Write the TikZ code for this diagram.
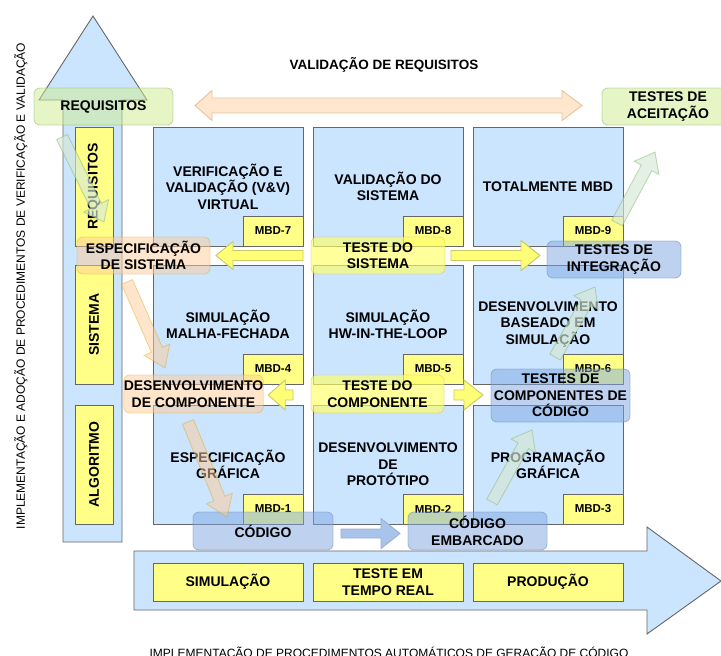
\documentclass[tikz,border=0pt]{standalone}
\usepackage{fontspec}
\setmainfont{Liberation Sans}
\usetikzlibrary{calc}

\definecolor{cellblue}{HTML}{CCE5FF}
\definecolor{edge}{HTML}{666666}
\definecolor{yel}{HTML}{FFFF88}
\definecolor{ovgreen}{HTML}{CDEB8B}
\definecolor{ovgreenline}{HTML}{82B366}
\definecolor{ovorange}{HTML}{FFCC99}
\definecolor{ovorangeline}{HTML}{D79B00}
\definecolor{ovblue}{HTML}{7EA6E0}
\definecolor{ovblueline}{HTML}{6C8EBF}
\definecolor{ovyellow}{HTML}{FFFF66}
\definecolor{ovyellowline}{HTML}{D6B656}
\definecolor{peach}{HTML}{FFE6CC}
\definecolor{peachline}{HTML}{E6C3A0}
\definecolor{arrowyel}{HTML}{FFFF77}
\definecolor{arrowyelline}{HTML}{C8C864}
\definecolor{arrowblue}{HTML}{A9C4EB}
\definecolor{arrowblueline}{HTML}{9AB0D0}
\definecolor{diaggreen}{HTML}{D5E8D4}

% block arrow: #1 style, #2 tail, #3 tip, #4 shaft half width, #5 head half width, #6 head length
\newcommand\blkarrow[6]{%
  \coordinate (ba-h) at ($(#3)!#6!(#2)$);
  \draw[#1] ($(#2)!#4!90:(#3)$) -- ($(ba-h)!#4!90:(#3)$) -- ($(ba-h)!#5!90:(#3)$)
    -- (#3) -- ($(ba-h)!#5!-90:(#3)$) -- ($(ba-h)!#4!-90:(#3)$) -- ($(#2)!#4!-90:(#3)$) -- cycle;
}

\begin{document}
\begin{tikzpicture}[x=1pt,y=-1pt,line width=0.9pt,
  lbl/.style={font=\bfseries\fontsize{14}{16.5}\selectfont, align=center},
  cell/.style={draw=edge, fill=cellblue, minimum width=150pt, minimum height=119pt,
    inner sep=0pt, outer sep=0pt, lbl},
  ybox/.style={draw=edge, fill=yel, inner sep=0pt, outer sep=0pt, lbl},
  vbox/.style={ybox, rotate=90, minimum width=119pt, minimum height=38pt},
  hbox/.style={ybox, minimum width=150pt, minimum height=38pt},
  mbd/.style={ybox, minimum width=60pt, minimum height=30pt, anchor=south east,
    font=\bfseries\fontsize{11.5}{13}\selectfont},
  ovl/.style={rounded corners=6pt, inner sep=0pt, outer sep=0pt, lbl, minimum height=37pt},
  greenbox/.style={ovl, fill=ovgreen, fill opacity=0.5, draw=ovgreenline, draw opacity=0.45, text opacity=1},
  orangebox/.style={ovl, fill=ovorange, fill opacity=0.5, draw=ovorangeline, draw opacity=0.3, text opacity=1},
  bluebox/.style={ovl, fill=ovblue, fill opacity=0.5, draw=ovblueline, draw opacity=0.5, text opacity=1},
  yellowbox/.style={ovl, fill=ovyellow, fill opacity=0.65, draw=ovyellowline, draw opacity=0.4, text opacity=1},
  bigarrow/.style={draw=edge, fill=cellblue},
  yarrow/.style={draw=arrowyelline, fill=arrowyel},
  barrow/.style={draw=arrowblueline, fill=arrowblue},
  garrow/.style={draw=ovgreenline, draw opacity=0.45, fill=diaggreen, fill opacity=0.65},
  oarrow/.style={draw=ovorangeline, draw opacity=0.35, fill=ovorange, fill opacity=0.5},
  axis/.style={font=\fontsize{12}{14}\selectfont}
]
\useasboundingbox (0,0) rectangle (721,656);

% big process arrows
\draw[bigarrow] (63,542) -- (63,100) -- (39,100) -- (93,16) -- (147,100) -- (122,100) -- (122,542) -- cycle;
\draw[bigarrow] (134,551) -- (647,551) -- (647,527) -- (721,581) -- (647,634) -- (647,610) -- (134,610) -- cycle;

% MBD grid
\node[cell] (c11) at (228,186.5) {VERIFICAÇÃO E\\VALIDAÇÃO (V\&V)\\VIRTUAL};
\node[cell] (c12) at (388,186.5) {VALIDAÇÃO DO\\SISTEMA};
\node[cell] (c13) at (548,186.5) {TOTALMENTE MBD};
\node[cell] (c21) at (228,324.5) {SIMULAÇÃO\\MALHA-FECHADA};
\node[cell] (c22) at (388,324.5) {SIMULAÇÃO\\HW-IN-THE-LOOP};
\node[cell] (c23) at (548,324.5) {DESENVOLVIMENTO\\BASEADO EM\\SIMULAÇÃO};
\node[cell] (c31) at (228,464.5) {ESPECIFICAÇÃO\\GRÁFICA};
\node[cell] (c32) at (388,464.5) {DESENVOLVIMENTO\\DE\\PROTÓTIPO};
\node[cell] (c33) at (548,464.5) {PROGRAMAÇÃO\\GRÁFICA};

\node[mbd] (m7) at (c11.south east) {MBD-7};
\node[mbd] (m8) at (c12.south east) {MBD-8};
\node[mbd] (m9) at (c13.south east) {MBD-9};
\node[mbd] (m4) at (c21.south east) {MBD-4};
\node[mbd] (m5) at (c22.south east) {MBD-5};
\node[mbd] (m6) at (c23.south east) {MBD-6};
\node[mbd] (m1) at (c31.south east) {MBD-1};
\node[mbd] (m2) at (c32.south east) {MBD-2};
\node[mbd] (m3) at (c33.south east) {MBD-3};

% levels along the vertical arrow
\node[vbox] (vreq) at (94,186.5) {REQUISITOS};
\node[vbox] (vsis) at (94,324.5) {SISTEMA};
\node[vbox] (valg) at (94,464.5) {ALGORITMO};

% stages along the horizontal arrow
\node[hbox] (hsim) at (228,582) {SIMULAÇÃO};
\node[hbox] (htr) at (388,582) {TESTE EM\\TEMPO REAL};
\node[hbox] (hprod) at (548,582) {PRODUÇÃO};

% axis captions
\node[font=\bfseries\fontsize{13.5}{15}\selectfont] (title) at (384,65) {VALIDAÇÃO DE REQUISITOS};
\node[axis, rotate=90] (vcap) at (21,286) {IMPLEMENTAÇÃO E ADOÇÃO DE PROCEDIMENTOS DE VERIFICAÇÃO E VALIDAÇÃO};
\node[axis, anchor=base] (hcap) at (389,657.5) {IMPLEMENTAÇÃO DE PROCEDIMENTOS AUTOMÁTICOS DE GERAÇÃO DE CÓDIGO};

% requirement validation double arrow
\draw[draw=peachline, fill=peach] (195,105.5) -- (212,90.5) -- (212,98) -- (562,98) -- (562,90.5)
  -- (582,105.5) -- (562,120.5) -- (562,113) -- (212,113) -- (212,120.5) -- cycle;

% V-cycle stages
\node[greenbox, minimum width=139pt] (req) at (103.5,106.5) {REQUISITOS};
\node[greenbox, minimum width=132pt] (acc) at (668,106.5) {TESTES DE\\ACEITAÇÃO};
\node[orangebox, minimum width=133pt] (espec) at (143.5,255.5) {ESPECIFICAÇÃO\\DE SISTEMA};
\node[yellowbox, minimum width=134pt] (tsis) at (378,255.5) {TESTE DO\\SISTEMA};
\node[bluebox, minimum width=134pt] (tint) at (614,259.5) {TESTES DE\\INTEGRAÇÃO};
\node[orangebox, minimum width=135pt, minimum height=38pt] (dcomp) at (193.5,394) {DESENVOLVIMENTO\\DE COMPONENTE};
\node[yellowbox, minimum width=133pt, minimum height=38pt] (tcomp) at (377.5,394) {TESTE DO\\COMPONENTE};
\node[bluebox, minimum width=139pt, minimum height=53pt] (tcc) at (560.5,395.5) {TESTES DE\\COMPONENTES DE\\CÓDIGO};
\node[bluebox, minimum width=140pt, minimum height=38pt] (cod) at (263,531) {CÓDIGO};
\node[bluebox, minimum width=139pt, minimum height=38pt] (codemb) at (477.5,531) {CÓDIGO\\EMBARCADO};

% horizontal flow arrows
\coordinate (ya1s) at ($(tsis.west)+(-8,0)$);
\coordinate (ya1t) at ($(espec.east)+(6,0)$);
\blkarrow{yarrow}{ya1s}{ya1t}{5pt}{14pt}{17pt}
\coordinate (ya2s) at ($(tsis.east)+(6,0)$);
\coordinate (ya2t) at ($(tint.west |- tsis.east)+(-7,0)$);
\blkarrow{yarrow}{ya2s}{ya2t}{5pt}{15pt}{19pt}
\coordinate (ya3s) at ($(tcomp.west)+(-18,1)$);
\coordinate (ya3t) at ($(dcomp.east)+(5,1)$);
\blkarrow{yarrow}{ya3s}{ya3t}{5pt}{15pt}{17pt}
\coordinate (ya4s) at ($(tcomp.east)+(10,1)$);
\coordinate (ya4t) at ($(tcc.west |- tcomp.east)+(-8,1)$);
\blkarrow{yarrow}{ya4s}{ya4t}{5pt}{15pt}{19pt}
\coordinate (ba1s) at ($(cod.east)+(8,2.5)$);
\coordinate (ba1t) at ($(codemb.west)+(-8,2.5)$);
\blkarrow{barrow}{ba1s}{ba1t}{4.5pt}{15pt}{19pt}

% descending branch
\coordinate (d1s) at (62,137);
\coordinate (d1t) at (104,222);
\blkarrow{garrow}{d1s}{d1t}{6pt}{14pt}{18pt}
\coordinate (d2s) at (127,282);
\coordinate (d2t) at (165,368);
\blkarrow{oarrow}{d2s}{d2t}{6pt}{14pt}{20pt}
\coordinate (d3s) at (188,422);
\coordinate (d3t) at (227,517);
\blkarrow{oarrow}{d3s}{d3t}{6pt}{14pt}{20pt}

% ascending branch
\coordinate (u1s) at (492,502);
\coordinate (u1t) at (532,430);
\blkarrow{garrow}{u1s}{u1t}{6pt}{14pt}{18pt}
\coordinate (u2s) at (555,357);
\coordinate (u2t) at (595,287);
\blkarrow{garrow}{u2s}{u2t}{6pt}{14pt}{18pt}
\coordinate (u3s) at (617,223);
\coordinate (u3t) at (655,152);
\blkarrow{garrow}{u3s}{u3t}{6pt}{14pt}{18pt}
\end{tikzpicture}
\end{document}
